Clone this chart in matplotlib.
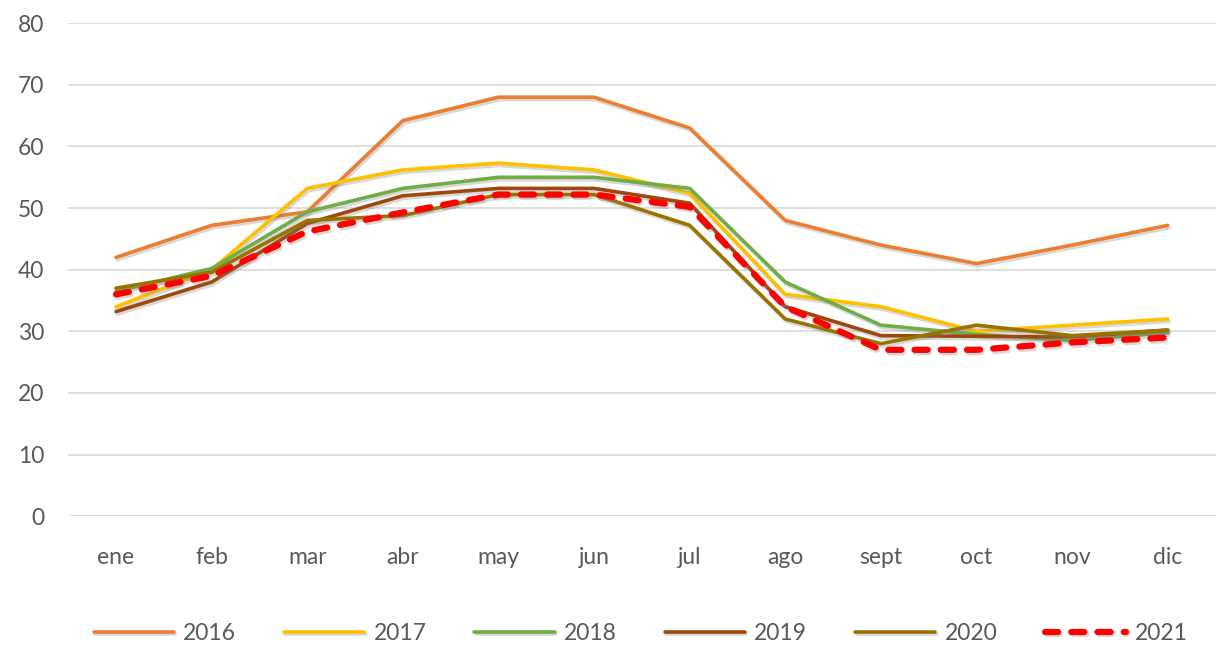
import matplotlib.pyplot as plt
import matplotlib.patheffects as pe

# months and yearly series
months = ['ene', 'feb', 'mar', 'abr', 'may', 'jun', 'jul', 'ago', 'sept', 'oct', 'nov', 'dic']
y2016 = [42, 47.2, 49.4, 64.2, 68, 68, 63, 48, 44, 41, 44, 47.2]
y2017 = [34, 40, 53.2, 56.2, 57.3, 56.2, 52.4, 36, 34, 30, 31, 32]
y2018 = [36.5, 40.2, 49.4, 53.2, 55, 55, 53.2, 38, 31, 29.5, 28.5, 29.8]
y2019 = [33.2, 38, 47.5, 52, 53.2, 53.2, 50.8, 34, 29.3, 29.2, 29.1, 30.2]
y2020 = [37, 39.6, 48, 48.8, 52.2, 52.2, 47.2, 32, 28, 31, 29.3, 30.2]
y2021 = [36, 39, 46.2, 49.3, 52.2, 52.2, 50.2, 34, 27, 27, 28.2, 29]

years = ['2016', '2017', '2018', '2019', '2020', '2021']
series = [y2016, y2017, y2018, y2019, y2020, y2021]
colors = ['#ED7D31', '#FFC000', '#70AD47', '#9E480E', '#997300', '#FF0000']

plt.rcParams['font.family'] = ['Lato', 'DejaVu Sans']

fig = plt.figure(figsize=(12.18, 6.46), dpi=100)
ax = fig.add_axes([0.056, 0.201, 0.942, 0.763])

shadow = [pe.SimpleLineShadow(offset=(1.0, -1.8), shadow_color='#808080', alpha=0.3), pe.Normal()]
x = range(len(months))
for name, vals, col in zip(years, series, colors):
    if name == '2021':
        ax.plot(x, vals, color=col, lw=4.5, ls=(0, (2.1, 2.1)), dash_capstyle='round',
                label=name, path_effects=shadow, zorder=3)
    else:
        ax.plot(x, vals, color=col, lw=2.6, label=name, path_effects=shadow,
                solid_capstyle='round', zorder=2)

ax.set_ylim(0, 80)
ax.set_yticks(range(0, 81, 10))
ax.set_xlim(-0.5, len(months) - 0.5)
ax.set_xticks(list(x))
ax.set_xticklabels(months)
ax.grid(axis='y', color='#D9D9D9', lw=1.2)
ax.set_axisbelow(True)
for s in ax.spines.values():
    s.set_visible(False)
ax.tick_params(length=0, labelsize=16.5, labelcolor='#595959')
ax.tick_params(axis='x', pad=22)
ax.tick_params(axis='y', pad=17)

leg = fig.legend(loc='center', bbox_to_anchor=(0.526, 0.02), ncol=6, frameon=False,
                 fontsize=16.5, handlelength=3.5, columnspacing=2.1, handletextpad=0.4)
for t in leg.get_texts():
    t.set_color('#595959')

fig.savefig('out.png', dpi=100)
